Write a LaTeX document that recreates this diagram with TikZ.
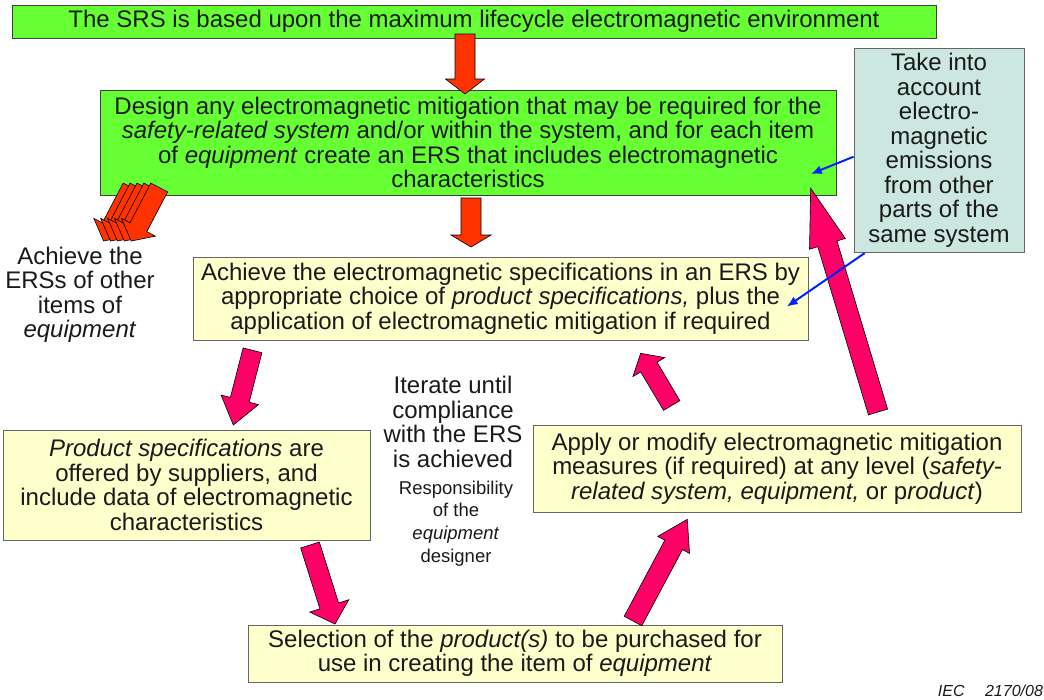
\documentclass[tikz,border=0pt]{standalone}
\usepackage{fontspec}
\setmainfont{Liberation Sans}
\usetikzlibrary{calc,arrows.meta}

\definecolor{boxgreen}{HTML}{66FF33}
\definecolor{arrowred}{HTML}{FF3300}
\definecolor{arrowpink}{HTML}{FF0066}
\definecolor{paleyellow}{HTML}{FFFFCC}
\definecolor{paleteal}{HTML}{CCE6E0}
\definecolor{linkblue}{HTML}{0022FF}
\definecolor{inkgray}{HTML}{1A1A1A}

\newcommand{\bodyfont}{\fontsize{24}{24.5}\selectfont}
\newcommand{\smallbodyfont}{\fontsize{18.5}{22.7}\selectfont}

% block arrow between two named coordinates:
% #1 style, #2 tail, #3 tip, #4 half shaft width, #5 half head width, #6 head length
\newcommand{\fatarrow}[6]{%
  \path coordinate (fa-base) at ($(#3)!#6!(#2)$);
  \draw[#1] ($(#2)!#4!90:(#3)$) -- ($(fa-base)!#4!90:(#3)$)
    -- ($(fa-base)!#5!90:(#3)$) -- (#3)
    -- ($(fa-base)!#5!-90:(#3)$) -- ($(fa-base)!#4!-90:(#3)$)
    -- ($(#2)!#4!-90:(#3)$) -- cycle;
}

\tikzset{
  box/.style={draw=black!75, line width=0.8pt, inner sep=0pt, align=center,
    font=\bodyfont, text=inkgray},
  greenbox/.style={box, fill=boxgreen},
  yellowbox/.style={box, draw=black!60, fill=paleyellow},
  notebox/.style={box, draw=black!60, fill=paleteal},
  freetext/.style={align=center, inner sep=0pt, font=\bodyfont, text=inkgray},
  redarrow/.style={fill=arrowred, draw=black, line width=0.6pt, line join=miter},
  pinkarrow/.style={fill=arrowpink, draw=black, line width=0.6pt, line join=miter},
  bluelink/.style={draw=linkblue, line width=2pt, -{Latex[length=11pt,width=9pt]}},
}

\begin{document}
\begin{tikzpicture}[x=1pt,y=-1pt]
\useasboundingbox (0,0) rectangle (1044,699);

% boxes
\node[greenbox, minimum width=924pt, minimum height=33pt] (srs) at (474,21.5)
  {The SRS is based upon the maximum lifecycle electromagnetic environment};
\node[greenbox, minimum width=736pt, minimum height=105pt] (design) at (468,142.5)
  {Design any electromagnetic mitigation that may be required for the\\
   \textit{safety-related system} and/or within the system, and for each item\\
   of \textit{equipment} create an ERS that includes electromagnetic\\
   characteristics};
\node[yellowbox, minimum width=615pt, minimum height=83pt] (achieve) at (500.5,298.5)
  {Achieve the electromagnetic specifications in an ERS by\\
   appropriate choice of \textit{product specifications,} plus the\\
   application of electromagnetic mitigation if required};
\node[yellowbox, minimum width=367pt, minimum height=110pt] (offered) at (186.5,485)
  {\textit{Product specifications} are\\
   offered by suppliers, and\\
   include data of electromagnetic\\
   characteristics};
\node[yellowbox, minimum width=488pt, minimum height=87pt] (apply) at (777,468.5)
  {Apply or modify electromagnetic mitigation\\
   measures (if required) at any level (\textit{safety-}\\
   \textit{related system, equipment,} or p\textit{roduct})};
\node[yellowbox, minimum width=534pt, minimum height=57pt] (select) at (515,653.5)
  {Selection of the \textit{product(s)} to be purchased for\\
   use in creating the item of \textit{equipment}};
\node[notebox, minimum width=170pt, minimum height=204.5pt] (note) at (939,150.5)
  {Take into\\account\\electro-\\magnetic\\emissions\\from other\\parts of the\\same system};

% free texts
\node[freetext] (others) at (80,295)
  {Achieve the\\ERSs of other\\items of\\\textit{equipment}};
\node[freetext] (iterate) at (453,422)
  {Iterate until\\compliance\\with the ERS\\is achieved};
\node[freetext, font=\smallbodyfont] (resp) at (456,523.5)
  {Responsibility\\of the\\\textit{equipment}\\designer};
\node[anchor=base west, inner sep=0pt, text=inkgray,
  font=\fontsize{16}{18}\selectfont\itshape]
  (iec) at (937.7,696.7) {IEC\hspace{20.5pt}2170/08};

% red block arrows down the main flow
\coordinate (r1t) at (465,34);  \coordinate (r1h) at (465,94);
\coordinate (r2t) at (471,198); \coordinate (r2h) at (471,247);
\fatarrow{redarrow}{r1t}{r1h}{10pt}{19.5pt}{15pt}
\fatarrow{redarrow}{r2t}{r2h}{10pt}{20pt}{12pt}

% stack of arrows towards the other items of equipment
\foreach \k in {4,3,2,1,0}{
  \coordinate (st\k) at ({159.2-6.9*\k},187.5);
  \coordinate (sh\k) at ({131.2-6.9*\k},241);
  \fatarrow{redarrow}{st\k}{sh\k}{9.5pt}{19.2pt}{15.5pt}
}

% pink block arrows of the iteration loop
\coordinate (pat) at (252.5,350.3); \coordinate (pah) at (233.3,425);
\coordinate (pct) at (310,545);     \coordinate (pch) at (335,624);
\coordinate (pdt) at (633,621);     \coordinate (pdh) at (687.3,519.3);
\coordinate (pbt) at (671.7,405.5); \coordinate (pbh) at (640.7,353.3);
\coordinate (pet) at (878,412);     \coordinate (peh) at (810.7,188.3);
\fatarrow{pinkarrow}{pat}{pah}{9.7pt}{19.3pt}{26pt}
\fatarrow{pinkarrow}{pct}{pch}{9.8pt}{20.5pt}{19pt}
\fatarrow{pinkarrow}{pdt}{pdh}{10pt}{18pt}{29pt}
\fatarrow{pinkarrow}{pbt}{pbh}{9.5pt}{18.5pt}{16pt}
\fatarrow{pinkarrow}{pet}{peh}{10pt}{18.7pt}{58pt}

% blue links from the note
\coordinate (b1) at (810.7,174);
\coordinate (b2) at (786.7,306.7);
\draw[bluelink] ([yshift=-6.2pt]note.west) -- (b1);
\draw[bluelink] ([xshift=11pt]note.south west) -- (b2);
\end{tikzpicture}
\end{document}
